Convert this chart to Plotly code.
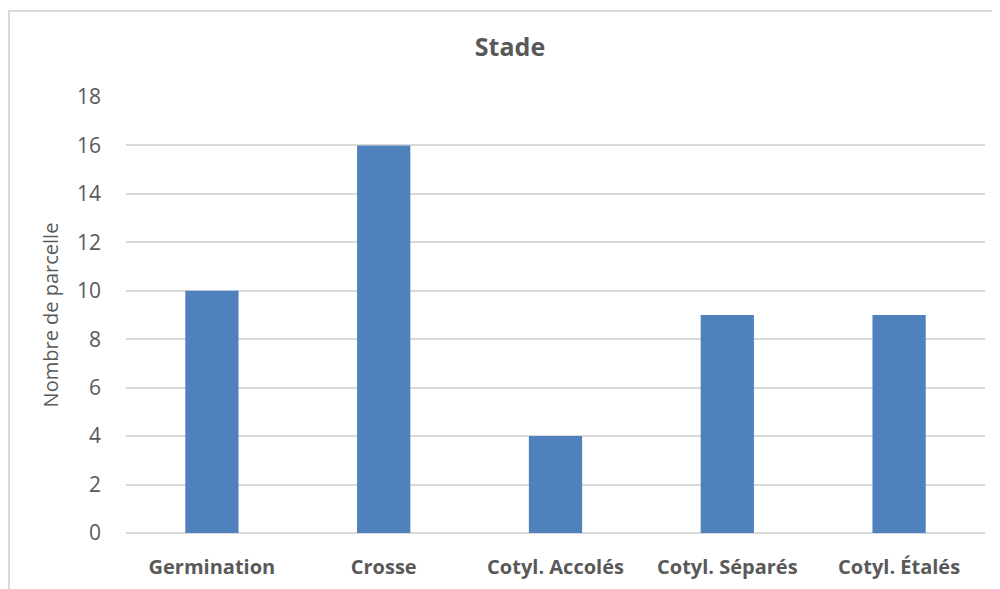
import plotly.graph_objects as go

categories = ["Germination", "Crosse", "Cotyl. Accolés", "Cotyl. Séparés", "Cotyl. Étalés"]
values = [10, 16, 4, 9, 9]
y_ticks = [0, 2, 4, 6, 8, 10, 12, 14, 16, 18]

W, H = 1000, 589
OFF = 8  # page body margin
L, R, T, B = 126 - OFF, 985 - OFF, 97 - OFF, 533 - OFF

fig = go.Figure(go.Bar(x=categories, y=values, marker=dict(color="#4F81BD", line=dict(width=0)), width=0.31))

def px(x):
    return (x - OFF - L) / (R - L)

def py(y):
    return (B - (y - OFF)) / (B - T)

fig.add_shape(type="rect", xref="paper", yref="paper",
              x0=px(9), x1=px(1015), y0=py(610), y1=py(11),
              line=dict(color="#D9D9D9", width=2), fillcolor="rgba(0,0,0,0)", layer="below")

fig.update_layout(
    width=W, height=H,
    margin=dict(l=L, r=W - R, t=T, b=H - B, pad=0),
    paper_bgcolor="white", plot_bgcolor="white",
    title=dict(text="<b>Stade</b>", x=(510 - OFF) / W, xanchor="center", y=1 - (47 - OFF) / H, yanchor="middle",
               font=dict(family="Open Sans", size=25, color="#595959")),
    showlegend=False,
    font=dict(family="Open Sans", color="#595959"),
    xaxis=dict(showgrid=False, showline=False, ticks="", tickfont=dict(size=20, color="#595959", family="Open Sans", weight="bold"),
               ticklabelstandoff=20),
    yaxis=dict(range=[0, 18], tickvals=y_ticks, showgrid=True, gridcolor="#D9D9D9", gridwidth=1.5,
               zeroline=True, zerolinecolor="#D9D9D9", zerolinewidth=1.5, showline=False, ticks="",
               tickfont=dict(size=21, color="#595959"), ticklabelstandoff=24,
               title=dict(text="Nombre de parcelle", font=dict(size=20, color="#595959"), standoff=12)),
)

fig.write_html("out.html")
